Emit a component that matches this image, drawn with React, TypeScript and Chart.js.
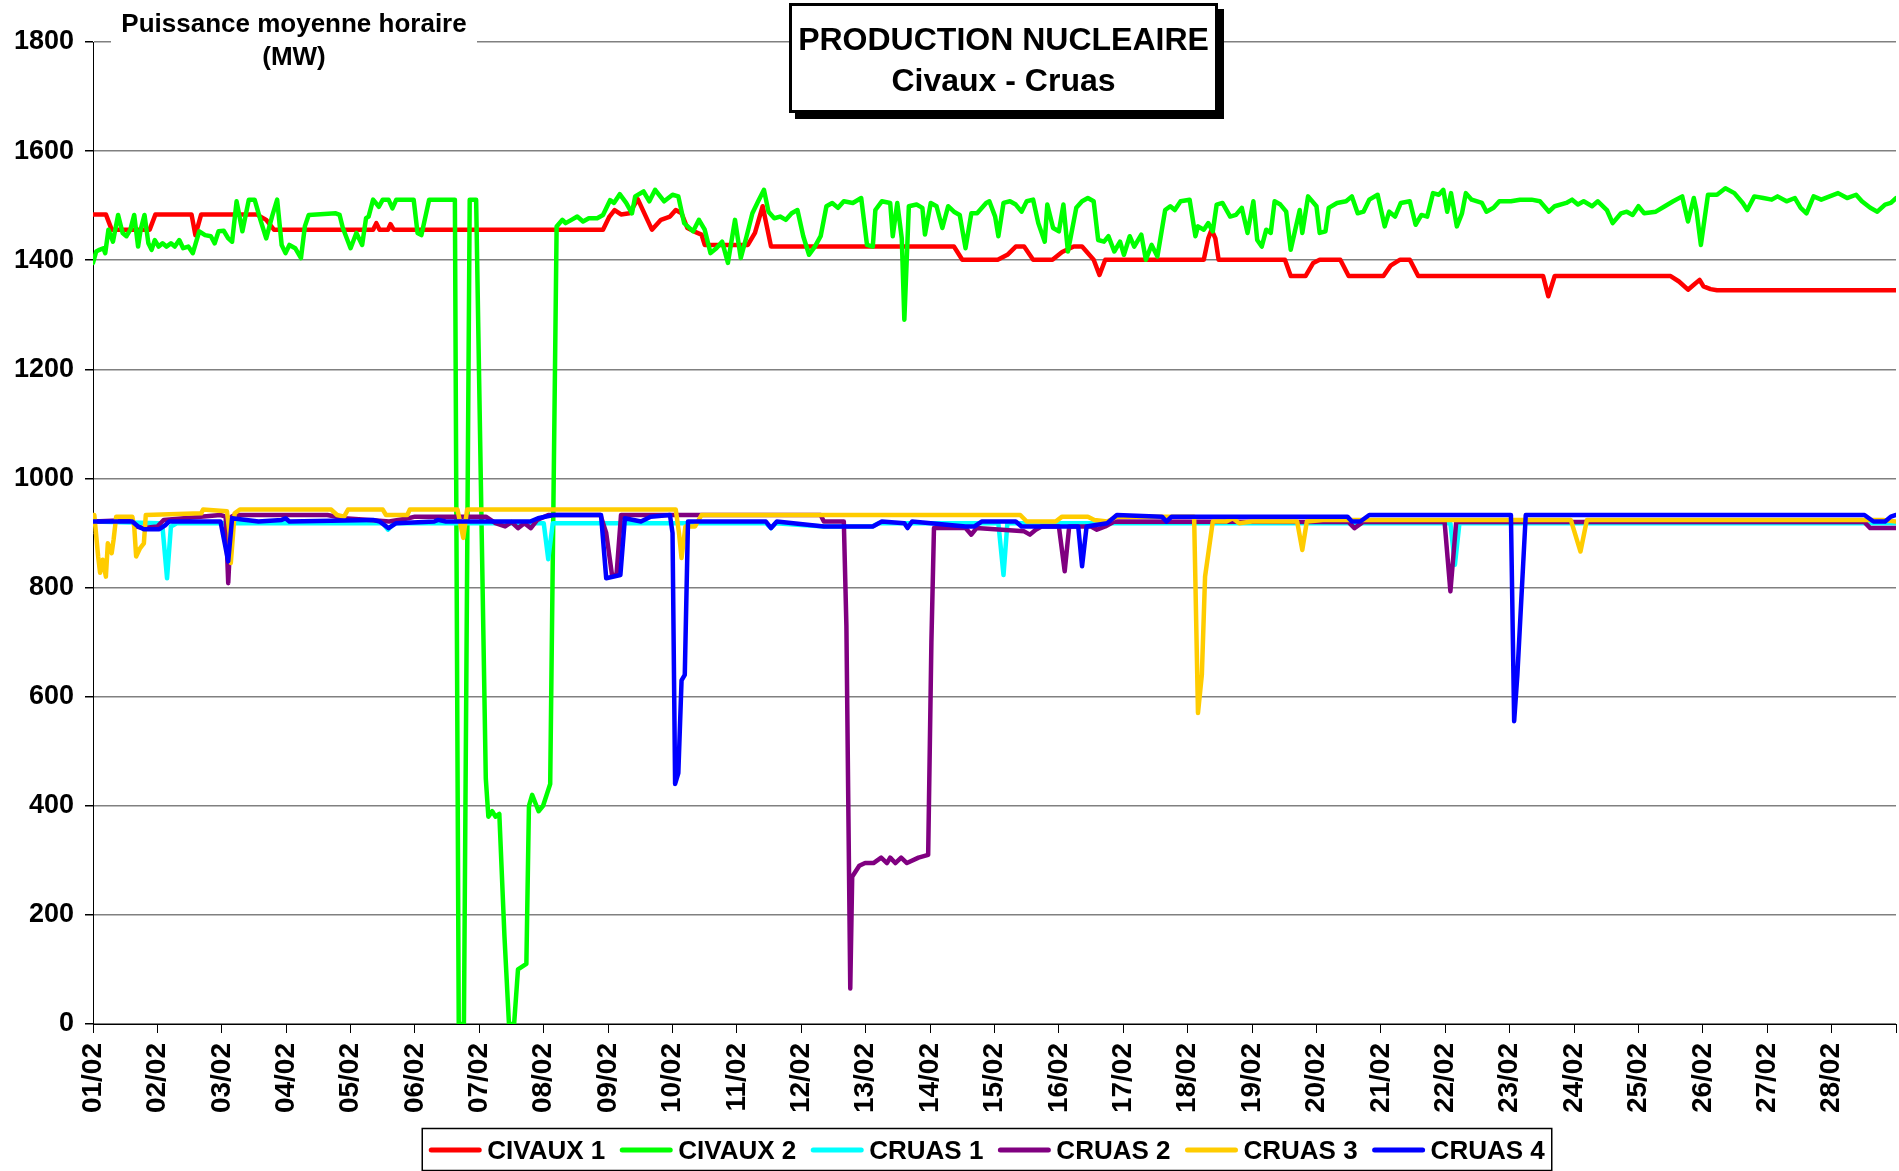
import React, { useEffect, useRef } from 'react';
import { Chart, registerables } from 'chart.js';

Chart.register(...registerables);

const FONT = "'Liberation Sans', Arial, sans-serif";

const DAY_LABELS = [
  '01/02', '02/02', '03/02', '04/02', '05/02', '06/02', '07/02', '08/02', '09/02', '10/02',
  '11/02', '12/02', '13/02', '14/02', '15/02', '16/02', '17/02', '18/02', '19/02', '20/02',
  '21/02', '22/02', '23/02', '24/02', '25/02', '26/02', '27/02', '28/02',
];

const SERIES_NAMES = ['CIVAUX 1', 'CIVAUX 2', 'CRUAS 1', 'CRUAS 2', 'CRUAS 3', 'CRUAS 4'];
const SERIES_COLORS = ['#FF0000', '#00FF00', '#00FFFF', '#800080', '#FFCC00', '#0000FF'];

const TITLE_LINES = ['PRODUCTION NUCLEAIRE', 'Civaux - Cruas'];
const Y_TITLE_LINES = ['Puissance moyenne horaire', '(MW)'];

// [day since 01/02 00h, MW]
const CIVAUX_1: [number, number][] = [
  [0, 1484], [0.2, 1484], [0.29, 1456], [0.88, 1456], [0.97, 1484], [1.53, 1484], [1.59, 1446], [1.68, 1484],
  [2.54, 1484], [2.69, 1474], [2.81, 1456], [4.35, 1456], [4.4, 1468], [4.45, 1456], [4.58, 1456], [4.62, 1466],
  [4.67, 1456], [7.92, 1456], [8.02, 1480], [8.1, 1492], [8.2, 1484], [8.33, 1486], [8.46, 1512], [8.55, 1489],
  [8.68, 1456], [8.82, 1474], [8.96, 1480], [9.05, 1492], [9.14, 1486], [9.23, 1459], [9.35, 1452], [9.45, 1447],
  [9.5, 1428], [10.17, 1428], [10.28, 1450], [10.4, 1499], [10.53, 1425], [13.37, 1425], [13.5, 1401],
  [14.05, 1401], [14.2, 1410], [14.33, 1425], [14.46, 1425], [14.6, 1401], [14.9, 1401], [15.05, 1415],
  [15.23, 1425], [15.36, 1425], [15.54, 1401], [15.63, 1373], [15.72, 1401], [17.25, 1401], [17.32, 1440],
  [17.37, 1456], [17.43, 1440], [17.48, 1401], [18.51, 1401], [18.6, 1371], [18.83, 1371], [18.95, 1395],
  [19.05, 1401], [19.37, 1401], [19.5, 1371], [20.04, 1371], [20.15, 1390], [20.3, 1401], [20.45, 1401],
  [20.58, 1371], [22.52, 1371], [22.6, 1334], [22.7, 1371], [24.5, 1371], [24.63, 1361], [24.77, 1346],
  [24.86, 1355], [24.95, 1364], [25.01, 1352], [25.12, 1347], [25.22, 1345], [28, 1345],
];

const CIVAUX_2: [number, number][] = [
  [0, 1395], [0.05, 1416], [0.1, 1419], [0.16, 1422], [0.19, 1413], [0.24, 1456], [0.31, 1434], [0.39, 1483],
  [0.46, 1450], [0.52, 1444], [0.58, 1456], [0.64, 1483], [0.7, 1425], [0.74, 1456], [0.8, 1483], [0.86, 1431],
  [0.91, 1419], [0.96, 1437], [1.02, 1425], [1.08, 1431], [1.14, 1425], [1.21, 1431], [1.27, 1425], [1.34, 1437],
  [1.4, 1422], [1.48, 1425], [1.55, 1413], [1.65, 1453], [1.74, 1446], [1.83, 1444], [1.89, 1431], [1.95, 1453],
  [2.03, 1454], [2.1, 1440], [2.16, 1434], [2.23, 1508], [2.32, 1453], [2.42, 1511], [2.51, 1511], [2.6, 1474],
  [2.69, 1440], [2.78, 1480], [2.86, 1511], [2.93, 1428], [2.99, 1413], [3.05, 1428], [3.14, 1422], [3.23, 1404],
  [3.29, 1462], [3.35, 1483], [3.77, 1486], [3.83, 1483], [3.88, 1459], [4.0, 1422], [4.09, 1450], [4.18, 1428],
  [4.24, 1477], [4.28, 1480], [4.35, 1511], [4.44, 1498], [4.5, 1511], [4.59, 1511], [4.65, 1495], [4.71, 1511],
  [4.98, 1511], [5.04, 1450], [5.1, 1446], [5.22, 1511], [5.62, 1511], [5.68, 0], [5.76, 0], [5.85, 1511],
  [5.95, 1511], [6.1, 450], [6.14, 380], [6.2, 390], [6.25, 380], [6.31, 385], [6.39, 160], [6.46, 0],
  [6.54, 0], [6.6, 100], [6.73, 110], [6.77, 400], [6.82, 420], [6.92, 390], [6.99, 400], [7.1, 440],
  [7.2, 1462], [7.29, 1474], [7.34, 1468], [7.43, 1474], [7.52, 1480], [7.61, 1471], [7.7, 1477], [7.83, 1477],
  [7.92, 1483], [8.03, 1510], [8.09, 1505], [8.18, 1521], [8.28, 1505], [8.37, 1486], [8.42, 1517], [8.55, 1526],
  [8.64, 1508], [8.73, 1529], [8.87, 1508], [9.0, 1520], [9.09, 1517], [9.18, 1468], [9.32, 1453], [9.41, 1474],
  [9.5, 1456], [9.59, 1413], [9.68, 1422], [9.77, 1434], [9.86, 1395], [9.97, 1474], [10.06, 1404], [10.15, 1444],
  [10.24, 1486], [10.33, 1508], [10.42, 1529], [10.49, 1489], [10.58, 1477], [10.67, 1480], [10.76, 1474],
  [10.85, 1486], [10.94, 1492], [11.03, 1444], [11.12, 1410], [11.21, 1425], [11.3, 1444], [11.39, 1499],
  [11.48, 1505], [11.57, 1496], [11.66, 1508], [11.8, 1505], [11.93, 1514], [12.02, 1428], [12.11, 1425],
  [12.15, 1492], [12.25, 1508], [12.38, 1505], [12.42, 1444], [12.49, 1505], [12.56, 1440], [12.6, 1291],
  [12.67, 1499], [12.79, 1502], [12.88, 1496], [12.92, 1447], [13.01, 1505], [13.1, 1499], [13.19, 1459],
  [13.28, 1499], [13.37, 1489], [13.46, 1483], [13.55, 1422], [13.64, 1486], [13.73, 1486], [13.87, 1505],
  [13.92, 1508], [14.01, 1480], [14.06, 1444], [14.14, 1505], [14.24, 1508], [14.33, 1502], [14.42, 1489],
  [14.5, 1508], [14.6, 1511], [14.68, 1468], [14.78, 1434], [14.82, 1502], [14.91, 1459], [15.0, 1453],
  [15.07, 1502], [15.14, 1416], [15.27, 1496], [15.36, 1508], [15.45, 1514], [15.54, 1508], [15.61, 1437],
  [15.7, 1434], [15.77, 1444], [15.86, 1416], [15.95, 1434], [16.01, 1410], [16.1, 1444], [16.17, 1425],
  [16.28, 1447], [16.35, 1401], [16.44, 1428], [16.53, 1407], [16.65, 1492], [16.73, 1499], [16.8, 1492],
  [16.89, 1508], [17.03, 1511], [17.12, 1444], [17.16, 1462], [17.25, 1456], [17.32, 1468], [17.39, 1453],
  [17.45, 1502], [17.54, 1505], [17.66, 1480], [17.75, 1483], [17.84, 1496], [17.93, 1450], [18.02, 1508],
  [18.08, 1437], [18.15, 1425], [18.22, 1456], [18.29, 1450], [18.35, 1508], [18.44, 1502], [18.53, 1489],
  [18.6, 1419], [18.74, 1492], [18.78, 1450], [18.87, 1517], [19.0, 1499], [19.05, 1450], [19.14, 1453],
  [19.19, 1496], [19.32, 1505], [19.46, 1508], [19.55, 1517], [19.64, 1486], [19.73, 1489], [19.82, 1511],
  [19.95, 1520], [20.06, 1462], [20.13, 1489], [20.22, 1480], [20.31, 1505], [20.45, 1508], [20.54, 1465],
  [20.63, 1483], [20.72, 1480], [20.81, 1523], [20.9, 1520], [20.97, 1529], [21.03, 1489], [21.09, 1523],
  [21.18, 1462], [21.26, 1486], [21.32, 1523], [21.41, 1511], [21.57, 1505], [21.64, 1489], [21.75, 1496],
  [21.84, 1508], [22.02, 1508], [22.16, 1511], [22.34, 1511], [22.47, 1508], [22.61, 1489], [22.7, 1499],
  [22.88, 1505], [22.97, 1511], [23.06, 1502], [23.15, 1508], [23.28, 1499], [23.37, 1508], [23.51, 1492],
  [23.6, 1468], [23.73, 1486], [23.82, 1489], [23.91, 1483], [24.0, 1499], [24.09, 1486], [24.27, 1489],
  [24.41, 1499], [24.54, 1508], [24.68, 1517], [24.77, 1471], [24.86, 1514], [24.9, 1492], [24.97, 1428],
  [25.08, 1520], [25.22, 1520], [25.35, 1532], [25.49, 1523], [25.62, 1505], [25.69, 1492], [25.8, 1517],
  [25.94, 1514], [26.07, 1511], [26.16, 1517], [26.3, 1508], [26.43, 1514], [26.52, 1496], [26.61, 1486],
  [26.72, 1517], [26.84, 1511], [26.97, 1517], [27.1, 1523], [27.24, 1514], [27.38, 1520], [27.47, 1508],
  [27.6, 1496], [27.71, 1489], [27.83, 1502], [27.92, 1505], [28, 1514],
];

const CRUAS_1: [number, number][] = [
  [0, 921], [1.03, 918], [1.08, 910], [1.15, 817], [1.21, 912], [1.3, 918], [4.5, 918], [4.58, 906], [4.68, 918],
  [7.0, 918], [7.07, 852], [7.14, 918], [10.45, 918], [10.53, 909], [10.6, 918], [11.35, 912], [12.1, 912],
  [12.2, 918], [14.06, 918], [14.14, 823], [14.2, 918], [21.08, 918], [21.15, 842], [21.22, 918], [28, 918],
];

const CRUAS_2: [number, number][] = [
  [0, 921], [0.6, 924], [0.67, 912], [0.79, 909], [1.0, 912], [1.1, 924], [1.98, 933], [2.06, 930], [2.1, 808],
  [2.15, 930], [2.2, 933], [3.64, 933], [3.9, 927], [4.3, 924], [4.6, 921], [4.9, 927], [5.0, 930], [6.1, 930],
  [6.25, 918], [6.4, 912], [6.5, 920], [6.6, 909], [6.7, 918], [6.8, 909], [6.9, 924], [7.07, 933], [7.88, 933],
  [7.97, 900], [8.06, 823], [8.13, 823], [8.2, 933], [11.3, 933], [11.35, 921], [11.66, 921], [11.7, 730],
  [11.76, 65], [11.79, 270], [11.9, 290], [11.99, 295], [12.12, 295], [12.24, 305], [12.33, 295], [12.38, 305],
  [12.46, 295], [12.55, 305], [12.64, 295], [12.82, 305], [12.97, 310], [13.02, 700], [13.06, 909], [13.55, 909],
  [13.64, 897], [13.72, 909], [14.46, 903], [14.55, 897], [14.64, 906], [14.73, 912], [15.0, 912], [15.09, 830],
  [15.16, 912], [15.5, 912], [15.59, 906], [15.72, 912], [15.86, 921], [19.5, 920], [19.59, 909], [19.72, 920],
  [20.99, 920], [21.08, 793], [21.17, 920], [27.51, 920], [27.6, 909], [28, 909],
];

const CRUAS_3: [number, number][] = [
  [0, 933], [0.02, 933], [0.08, 857], [0.11, 827], [0.15, 851], [0.2, 820], [0.23, 881], [0.29, 863], [0.32, 888],
  [0.36, 930], [0.61, 930], [0.64, 912], [0.67, 857], [0.73, 872], [0.79, 881], [0.82, 933], [1.68, 936],
  [1.71, 943], [2.08, 940], [2.12, 900], [2.14, 845], [2.2, 936], [2.28, 943], [3.7, 943], [3.79, 933],
  [3.9, 930], [3.96, 943], [4.5, 943], [4.55, 933], [4.88, 933], [4.92, 943], [5.66, 943], [5.75, 891],
  [5.81, 943], [9.05, 943], [9.1, 900], [9.14, 854], [9.2, 912], [9.35, 912], [9.45, 933], [14.4, 933],
  [14.5, 921], [14.95, 921], [15.05, 930], [15.45, 930], [15.55, 924], [15.75, 921], [15.9, 930], [17.1, 930],
  [17.16, 570], [17.22, 640], [17.27, 820], [17.39, 921], [17.6, 921], [17.7, 927], [17.8, 918], [18.0, 921],
  [18.7, 921], [18.78, 869], [18.85, 921], [19.1, 924], [22.95, 924], [23.1, 866], [23.2, 924], [27.8, 924],
  [28, 921],
];

const CRUAS_4: [number, number][] = [
  [0, 921], [0.61, 921], [0.7, 912], [0.79, 907], [1.03, 907], [1.12, 914], [1.18, 921], [1.98, 921], [2.1, 848],
  [2.16, 927], [2.57, 921], [2.93, 924], [2.99, 927], [3.05, 921], [4.35, 924], [4.45, 921], [4.59, 909],
  [4.71, 918], [5.3, 921], [5.36, 924], [5.48, 921], [6.79, 921], [6.91, 927], [7.15, 933], [7.89, 933],
  [7.97, 817], [8.19, 823], [8.26, 927], [8.51, 921], [8.66, 930], [8.96, 933], [9.0, 900], [9.04, 440],
  [9.09, 460], [9.14, 630], [9.19, 640], [9.24, 921], [10.45, 921], [10.53, 909], [10.62, 921], [11.35, 912],
  [12.11, 912], [12.25, 921], [12.6, 918], [12.65, 909], [12.72, 921], [13.55, 912], [13.69, 912], [13.8, 921],
  [14.33, 921], [14.42, 912], [15.3, 912], [15.36, 839], [15.43, 912], [15.6, 915], [15.75, 918], [15.9, 933],
  [16.6, 930], [16.67, 921], [16.75, 930], [19.48, 930], [19.55, 921], [19.68, 921], [19.82, 933], [22.02, 933],
  [22.07, 555], [22.12, 640], [22.25, 933], [27.51, 933], [27.65, 921], [27.83, 921], [27.92, 930], [28, 933],
];

const SERIES = [CIVAUX_1, CIVAUX_2, CRUAS_1, CRUAS_2, CRUAS_3, CRUAS_4];

const decorPlugin = {
  id: 'decor',
  afterDraw(chart: any) {
    const ctx = chart.ctx as CanvasRenderingContext2D;
    ctx.save();

    // Y axis title with white background
    ctx.fillStyle = '#FFFFFF';
    ctx.fillRect(111, 6, 366, 66);
    ctx.fillStyle = '#000000';
    ctx.font = `bold 26px ${FONT}`;
    ctx.textAlign = 'center';
    ctx.textBaseline = 'alphabetic';
    ctx.fillText(Y_TITLE_LINES[0], 294, 32);
    ctx.fillText(Y_TITLE_LINES[1], 294, 65);

    // Title box with shadow
    const bx = 789, by = 3, bw = 429, bh = 110;
    ctx.fillStyle = '#000000';
    ctx.fillRect(bx + 6, by + 6, bw, bh);
    ctx.fillStyle = '#FFFFFF';
    ctx.fillRect(bx, by, bw, bh);
    ctx.lineWidth = 3;
    ctx.strokeStyle = '#000000';
    ctx.strokeRect(bx + 1.5, by + 1.5, bw - 3, bh - 3);
    ctx.fillStyle = '#000000';
    ctx.font = `bold 32px ${FONT}`;
    ctx.fillText(TITLE_LINES[0], bx + bw / 2, 50);
    ctx.fillText(TITLE_LINES[1], bx + bw / 2, 91);

    // Legend
    ctx.font = `bold 26px ${FONT}`;
    const lineLen = 52, gapText = 6, gapItem = 15;
    const widths = SERIES_NAMES.map((n) => ctx.measureText(n).width);
    const total = widths.reduce((a, w) => a + lineLen + gapText + w, 0) + gapItem * (SERIES_NAMES.length - 1);
    const cx = 987;
    const padX = 7;
    const lx0 = cx - total / 2;
    ctx.lineWidth = 1.5;
    ctx.strokeStyle = '#000000';
    ctx.strokeRect(lx0 - padX, 1128.5, total + padX * 2, 42);
    let x = lx0;
    ctx.textAlign = 'left';
    SERIES_NAMES.forEach((name, i) => {
      ctx.beginPath();
      ctx.strokeStyle = SERIES_COLORS[i];
      ctx.lineWidth = 5;
      ctx.lineCap = 'round';
      ctx.moveTo(x + 2, 1150);
      ctx.lineTo(x + lineLen - 2, 1150);
      ctx.stroke();
      ctx.fillStyle = '#000000';
      ctx.fillText(name, x + lineLen + gapText, 1159);
      x += lineLen + gapText + widths[i] + gapItem;
    });

    ctx.restore();
  },
};

export default function App() {
  const canvasRef = useRef<HTMLCanvasElement | null>(null);

  useEffect(() => {
    document.body.style.margin = '0';
    document.body.style.overflow = 'hidden';
    const canvas = canvasRef.current;
    if (!canvas) return;

    const chart = new Chart(canvas, {
      type: 'line',
      data: {
        datasets: SERIES.map((pts, i) => ({
          label: SERIES_NAMES[i],
          data: pts.map(([x, y]) => ({ x, y })),
          borderColor: SERIES_COLORS[i],
          backgroundColor: SERIES_COLORS[i],
          borderWidth: 4.5,
          pointRadius: 0,
          pointHoverRadius: 0,
          tension: 0,
          fill: false,
          order: SERIES.length - i,
          borderJoinStyle: 'round',
          borderCapStyle: 'round',
        })),
      },
      options: {
        responsive: false,
        animation: false,
        devicePixelRatio: 1,
        events: [],
        layout: { padding: { top: 42, right: 3, left: 0, bottom: 0 } },
        plugins: {
          legend: { display: false },
          tooltip: { enabled: false },
          title: { display: false },
        },
        scales: {
          x: {
            type: 'linear',
            min: 0,
            max: 28,
            ticks: {
              stepSize: 1,
              autoSkip: false,
              maxRotation: 90,
              minRotation: 90,
              padding: 10,
              color: '#000000',
              font: { family: FONT, size: 28, weight: 'bold' },
              callback: (v: any) => DAY_LABELS[Math.round(Number(v))] ?? '',
            },
            grid: {
              display: true,
              drawOnChartArea: false,
              drawTicks: true,
              tickLength: 9,
              color: '#000000',
              tickColor: '#000000',
              lineWidth: 1,
            },
            border: { display: true, color: '#000000', width: 1 },
            afterFit: (s: any) => {
              s.height = 147;
              s.paddingLeft = 0;
              s.paddingRight = 0;
            },
          },
          y: {
            type: 'linear',
            min: 0,
            max: 1800,
            ticks: {
              stepSize: 200,
              padding: 11,
              color: '#000000',
              font: { family: FONT, size: 27, weight: 'bold' },
              callback: (v: any) => String(Math.round(Number(v))),
            },
            grid: {
              color: '#808080',
              lineWidth: 1.5,
              tickLength: 8,
              tickColor: '#000000',
              drawTicks: true,
            },
            border: { display: true, color: '#000000', width: 1 },
            afterFit: (s: any) => {
              s.width = 93;
              s.paddingTop = 0;
              s.paddingBottom = 0;
            },
          },
        },
      } as any,
      plugins: [decorPlugin],
    });

    return () => chart.destroy();
  }, []);

  return (
    <canvas
      ref={canvasRef}
      width={1899}
      height={1171}
      style={{ display: 'block', width: '1899px', height: '1171px' }}
    />
  );
}
